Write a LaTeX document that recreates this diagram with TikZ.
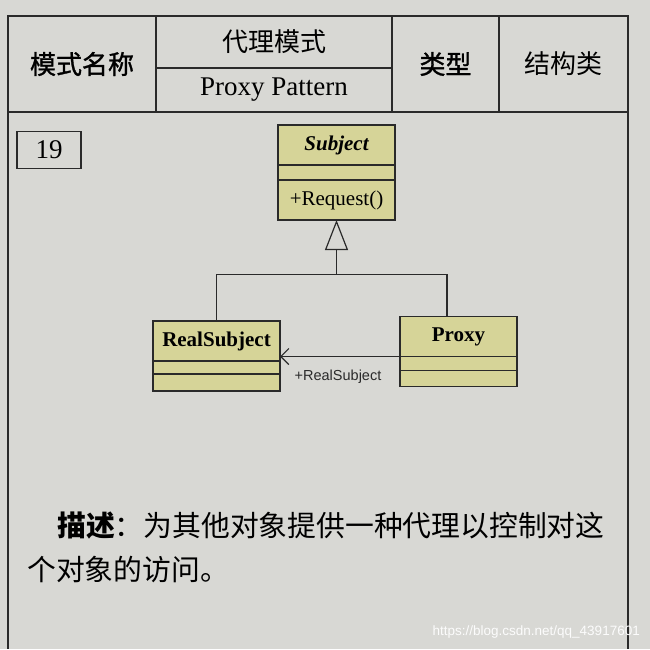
\documentclass[tikz,border=0pt]{standalone}
\usepackage{fontspec}
\setmainfont{Liberation Serif}
\setsansfont{Liberation Sans}
\newfontfamily\cjk{Noto Sans CJK SC}
\newfontfamily\cjkmid{Noto Sans CJK SC}[FakeBold=1.2]
\usepackage{xcolor}
\usetikzlibrary{arrows.meta,positioning}
\definecolor{paper}{RGB}{216,216,212}
\definecolor{ink}{RGB}{42,42,42}
\definecolor{umlfill}{RGB}{214,212,152}
\tikzset{
  cell/.style={draw=ink, line width=1.4pt, inner sep=0pt, outer sep=0pt},
  umlbox/.style={draw=ink, fill=umlfill, line width=1.2pt, inner sep=0pt, outer sep=0pt, minimum width=#1},
  umlline/.style={draw=ink, line width=1.2pt},
  inherit/.style={umlline, -{Triangle[open, width=23pt, length=30pt, line width=1.2pt]}},
  navig/.style={umlline, -{Straight Barb[length=8pt, width=16pt, line width=1.2pt]}},
}
\begin{document}
\begin{tikzpicture}[x=1pt, y=-1pt]
    %%paper
    \fill[paper] (0,0) rectangle (650,649);
    \useasboundingbox (0,0) rectangle (650,649);
    %%header_table
    \node[cell, minimum width=148pt, minimum height=96pt] (namecell) at (82,64)
        {\cjkmid\fontsize{26}{30}\selectfont 模式名称};
    \node[cell, minimum width=236pt, minimum height=52pt] (cnname) at (274,42)
        {\cjk\fontsize{26}{30}\selectfont 代理模式};
    \node[cell, minimum width=236pt, minimum height=44pt] (enname) at (274,90)
        {\fontsize{27}{30}\selectfont Proxy Pattern};
    \node[cell, minimum width=107pt, minimum height=96pt] (typecell) at (445.5,64)
        {\cjkmid\fontsize{26}{30}\selectfont 类型};
    \node[cell, minimum width=129pt, minimum height=96pt] (typeval) at (563.5,64)
        {\cjk\fontsize{26}{30}\selectfont 结构类};
    %%frame
    \draw[cell] (namecell.south west) -- ++(0,537);
    \draw[cell] (typeval.south east) -- ++(0,537);
    \node[cell, minimum width=64pt, minimum height=37pt] (number) at (49,150)
        {\fontsize{27}{30}\selectfont 19};
    %%Subject
    \node[umlbox=117pt, minimum height=40pt] (subjname) at (336.5,145)
        {\fontsize{21}{24}\selectfont\bfseries\itshape Subject};
    \node[umlbox=117pt, minimum height=15pt, below=0pt of subjname] (subjattr) {};
    \node[umlbox=117pt, minimum height=40pt, below=0pt of subjattr] (subjop)
        {\fontsize{21}{24}\selectfont +Request()};
    %%RealSubject
    \node[umlbox=127pt, minimum height=40pt] (rsname) at (216.5,341)
        {\fontsize{21}{24}\selectfont\bfseries RealSubject};
    \node[umlbox=127pt, minimum height=13pt, below=0pt of rsname] (rsattr) {};
    \node[umlbox=127pt, minimum height=17pt, below=0pt of rsattr] (rsop) {};
    %%Proxy
    \node[umlbox=117pt, minimum height=40pt] (pxname) at (458.5,336.5)
        {\fontsize{21}{24}\selectfont\bfseries Proxy};
    \node[umlbox=117pt, minimum height=14pt, below=0pt of pxname] (pxattr) {};
    \node[umlbox=117pt, minimum height=16pt, below=0pt of pxattr] (pxop) {};
    %%generalization
    \coordinate (join) at (336.5,274.5);
    \draw[umlline] (rsname.north) |- (join) -| ([xshift=-11.5pt]pxname.north);
    \draw[inherit] (join) -- (subjop.south);
    %%association
    \draw[navig] (pxname.south west) -- (pxname.south west -| rsname.east);
    \node[font=\sffamily\fontsize{14.5}{16}\selectfont, text=ink] (assoc) at (338,377) {+RealSubject};
    %%description
    \node[anchor=west, inner sep=0pt] (desc1) at (57,525)
        {\cjk\fontsize{28.8}{32}\selectfont\textbf{描述}：为其他对象提供一种代理以控制对这};
    \node[anchor=west, inner sep=0pt] (desc2) at (27,570)
        {\cjk\fontsize{28.8}{32}\selectfont 个对象的访问。};
    %%watermark
    \node[anchor=east, inner sep=0pt, text=white!92!paper] (mark) at (640,632)
        {\sffamily\fontsize{13.5}{15}\selectfont https://blog.csdn.net/qq\_43917601};
\end{tikzpicture}
\end{document}
